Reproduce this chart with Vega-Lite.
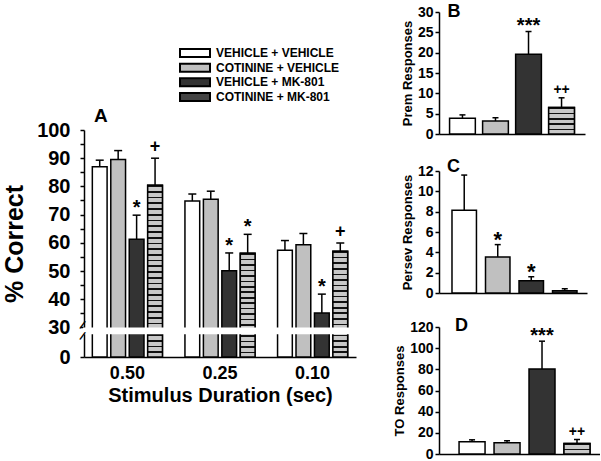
{
  "$schema": "https://vega.github.io/schema/vega-lite/v6.json",
  "padding": {"left": 2, "top": 3, "right": 0, "bottom": 0},
  "background": "white",
  "config": {
    "font": "Liberation Sans",
    "view": {"stroke": null},
    "axis": {"domainColor": "black", "tickColor": "black", "labelColor": "black", "titleColor": "black", "labelFontWeight": "bold", "titleFontWeight": "bold", "grid": false, "domainWidth": 1.5, "tickWidth": 1.5, "labelOverlap": false, "labelFont": "Liberation Sans", "titleFont": "Liberation Sans"},
    "title": {"color": "black", "font": "Liberation Sans"}
  },
  "datasets": {
    "groups": [
      {"grp": "VEHICLE + VEHICLE"},
      {"grp": "COTININE + VEHICLE"},
      {"grp": "VEHICLE + MK-801"},
      {"grp": "COTININE + MK-801"}
    ],
    "acc": [
      {"dur": "0.50", "grp": "VEHICLE + VEHICLE", "val": 87, "err": 89.3, "sig": ""},
      {"dur": "0.50", "grp": "COTININE + VEHICLE", "val": 89.5, "err": 92.7, "sig": ""},
      {"dur": "0.50", "grp": "VEHICLE + MK-801", "val": 61.3, "err": 69.8, "sig": "*"},
      {"dur": "0.50", "grp": "COTININE + MK-801", "val": 80.4, "err": 90, "sig": "+"},
      {"dur": "0.25", "grp": "VEHICLE + VEHICLE", "val": 74.8, "err": 77.3, "sig": ""},
      {"dur": "0.25", "grp": "COTININE + VEHICLE", "val": 75.4, "err": 78.3, "sig": ""},
      {"dur": "0.25", "grp": "VEHICLE + MK-801", "val": 50.1, "err": 56.4, "sig": "*"},
      {"dur": "0.25", "grp": "COTININE + MK-801", "val": 56.3, "err": 63, "sig": "*"},
      {"dur": "0.10", "grp": "VEHICLE + VEHICLE", "val": 57.4, "err": 60.8, "sig": ""},
      {"dur": "0.10", "grp": "COTININE + VEHICLE", "val": 59.3, "err": 63.3, "sig": ""},
      {"dur": "0.10", "grp": "VEHICLE + MK-801", "val": 35.1, "err": 41.8, "sig": "*"},
      {"dur": "0.10", "grp": "COTININE + MK-801", "val": 57, "err": 59.9, "sig": "+"}
    ],
    "prem": [
      {"grp": "VEHICLE + VEHICLE", "val": 3.9, "err": 4.7, "sig": ""},
      {"grp": "COTININE + VEHICLE", "val": 3.2, "err": 4.0, "sig": ""},
      {"grp": "VEHICLE + MK-801", "val": 19.6, "err": 25.2, "sig": "***"},
      {"grp": "COTININE + MK-801", "val": 6.5, "err": 8.9, "sig": "++"}
    ],
    "persev": [
      {"grp": "VEHICLE + VEHICLE", "val": 8.15, "err": 11.6, "sig": ""},
      {"grp": "COTININE + VEHICLE", "val": 3.55, "err": 4.76, "sig": "*"},
      {"grp": "VEHICLE + MK-801", "val": 1.2, "err": 1.6, "sig": "*"},
      {"grp": "COTININE + MK-801", "val": 0.23, "err": 0.42, "sig": ""}
    ],
    "to": [
      {"grp": "VEHICLE + VEHICLE", "val": 11.6, "err": 13.4, "sig": ""},
      {"grp": "COTININE + VEHICLE", "val": 10.6, "err": 12.5, "sig": ""},
      {"grp": "VEHICLE + MK-801", "val": 80.3, "err": 106.6, "sig": "***"},
      {"grp": "COTININE + MK-801", "val": 10, "err": 13.7, "sig": "++"}
    ]
  },
  "spacing": 36,
  "hconcat": [
    {
      "spacing": 1,
      "vconcat": [
        {
          "width": 222,
          "height": 92.33,
          "data": {"name": "groups"},
          "layer": [
            {
              "mark": {"type": "point", "shape": "M-3.75,-1H3.75V1H-3.75Z", "size": 64, "filled": true, "stroke": "black", "strokeWidth": 2, "opacity": 1},
              "encoding": {
                "y": {"field": "grp", "type": "nominal", "scale": {"type": "band", "domain": [" ", "VEHICLE + VEHICLE", "COTININE + VEHICLE", "VEHICLE + MK-801", "COTININE + MK-801"], "paddingInner": 0, "paddingOuter": 0.65, "align": 1}, "axis": null},
                "fill": {"field": "grp", "type": "nominal", "scale": {"domain": ["VEHICLE + VEHICLE", "COTININE + VEHICLE", "VEHICLE + MK-801", "COTININE + MK-801"], "range": ["#ffffff", "#c0c0c0", "#333333", "#444444"]}, "legend": null}
              }
            },
            {
              "mark": {"type": "text", "align": "left", "baseline": "middle", "dx": 21, "fontSize": 12, "fontWeight": "bold", "color": "black"},
              "encoding": {
                "y": {"field": "grp", "type": "nominal"},
                "text": {"field": "grp"}
              }
            }
          ]
        },
        {
          "width": 272,
          "height": 227,
          "data": {"name": "acc"},
          "title": {"text": "A", "anchor": "start", "frame": "group", "fontSize": 19, "fontWeight": "bold", "offset": 3, "dx": 10, "dy": 9},
          "layer": [
            {
              "mark": {"type": "bar", "stroke": "black", "strokeWidth": 1.5},
              "encoding": {
                "x": {"field": "dur", "type": "nominal", "scale": {"domain": ["0.50", "0.25", "0.10"], "paddingInner": 0.243, "paddingOuter": 0.09},
                      "axis": {"labelAngle": 0, "labelFontSize": 18, "ticks": false, "labelPadding": 7, "title": "Stimulus Duration (sec)", "titleFontSize": 20, "titlePadding": 3}},
                "xOffset": {"field": "grp", "type": "nominal", "scale": {"domain": ["VEHICLE + VEHICLE", "COTININE + VEHICLE", "VEHICLE + MK-801", "COTININE + MK-801"], "paddingInner": 0.2, "paddingOuter": 0}},
                "y": {"field": "val", "type": "quantitative", "scale": {"domain": [0, 30, 100], "range": [227, 197.4, 0], "nice": false, "zero": false},
                      "axis": {"values": [0, 30, 35, 40, 45, 50, 55, 60, 65, 70, 75, 80, 85, 90, 95, 100], "tickCount": 40, "format": "d", "labelOverlap": false, "labelExpr": "datum.value % 10 == 0 ? datum.label : ''", "labelFontSize": 20, "labelPadding": 10, "tickSize": 4, "title": "% Correct", "titleFontSize": 25, "titlePadding": 9}},
                "fill": {"field": "grp", "type": "nominal", "legend": null}
              }
            },
            {
              "transform": [{"filter": "datum.grp == 'COTININE + MK-801' && datum.dur == '0.50'"}],
              "mark": {"type": "bar", "stroke": "black", "strokeWidth": 1.5,
                "fill": {"gradient": "linear", "x1": 0, "y1": 0, "x2": 0, "y2": 1, "stops": [
                  {"offset": 0, "color": "#111"}, {"offset": 0.01, "color": "#111"}, {"offset": 0.01, "color": "#c8c8c8"}, {"offset": 0.0333, "color": "#c8c8c8"},
                  {"offset": 0.0333, "color": "#111"}, {"offset": 0.0433, "color": "#111"}, {"offset": 0.0433, "color": "#c8c8c8"}, {"offset": 0.0667, "color": "#c8c8c8"},
                  {"offset": 0.0667, "color": "#111"}, {"offset": 0.0767, "color": "#111"}, {"offset": 0.0767, "color": "#c8c8c8"}, {"offset": 0.1, "color": "#c8c8c8"},
                  {"offset": 0.1, "color": "#111"}, {"offset": 0.11, "color": "#111"}, {"offset": 0.11, "color": "#c8c8c8"}, {"offset": 0.1333, "color": "#c8c8c8"},
                  {"offset": 0.1333, "color": "#111"}, {"offset": 0.1433, "color": "#111"}, {"offset": 0.1433, "color": "#c8c8c8"}, {"offset": 0.1667, "color": "#c8c8c8"},
                  {"offset": 0.1667, "color": "#111"}, {"offset": 0.1767, "color": "#111"}, {"offset": 0.1767, "color": "#c8c8c8"}, {"offset": 0.2, "color": "#c8c8c8"},
                  {"offset": 0.2, "color": "#111"}, {"offset": 0.21, "color": "#111"}, {"offset": 0.21, "color": "#c8c8c8"}, {"offset": 0.2333, "color": "#c8c8c8"},
                  {"offset": 0.2333, "color": "#111"}, {"offset": 0.2433, "color": "#111"}, {"offset": 0.2433, "color": "#c8c8c8"}, {"offset": 0.2667, "color": "#c8c8c8"},
                  {"offset": 0.2667, "color": "#111"}, {"offset": 0.2767, "color": "#111"}, {"offset": 0.2767, "color": "#c8c8c8"}, {"offset": 0.3, "color": "#c8c8c8"},
                  {"offset": 0.3, "color": "#111"}, {"offset": 0.31, "color": "#111"}, {"offset": 0.31, "color": "#c8c8c8"}, {"offset": 0.3333, "color": "#c8c8c8"},
                  {"offset": 0.3333, "color": "#111"}, {"offset": 0.3433, "color": "#111"}, {"offset": 0.3433, "color": "#c8c8c8"}, {"offset": 0.3667, "color": "#c8c8c8"},
                  {"offset": 0.3667, "color": "#111"}, {"offset": 0.3767, "color": "#111"}, {"offset": 0.3767, "color": "#c8c8c8"}, {"offset": 0.4, "color": "#c8c8c8"},
                  {"offset": 0.4, "color": "#111"}, {"offset": 0.41, "color": "#111"}, {"offset": 0.41, "color": "#c8c8c8"}, {"offset": 0.4333, "color": "#c8c8c8"},
                  {"offset": 0.4333, "color": "#111"}, {"offset": 0.4433, "color": "#111"}, {"offset": 0.4433, "color": "#c8c8c8"}, {"offset": 0.4667, "color": "#c8c8c8"},
                  {"offset": 0.4667, "color": "#111"}, {"offset": 0.4767, "color": "#111"}, {"offset": 0.4767, "color": "#c8c8c8"}, {"offset": 0.5, "color": "#c8c8c8"},
                  {"offset": 0.5, "color": "#111"}, {"offset": 0.51, "color": "#111"}, {"offset": 0.51, "color": "#c8c8c8"}, {"offset": 0.5333, "color": "#c8c8c8"},
                  {"offset": 0.5333, "color": "#111"}, {"offset": 0.5433, "color": "#111"}, {"offset": 0.5433, "color": "#c8c8c8"}, {"offset": 0.5667, "color": "#c8c8c8"},
                  {"offset": 0.5667, "color": "#111"}, {"offset": 0.5767, "color": "#111"}, {"offset": 0.5767, "color": "#c8c8c8"}, {"offset": 0.6, "color": "#c8c8c8"},
                  {"offset": 0.6, "color": "#111"}, {"offset": 0.61, "color": "#111"}, {"offset": 0.61, "color": "#c8c8c8"}, {"offset": 0.6333, "color": "#c8c8c8"},
                  {"offset": 0.6333, "color": "#111"}, {"offset": 0.6433, "color": "#111"}, {"offset": 0.6433, "color": "#c8c8c8"}, {"offset": 0.6667, "color": "#c8c8c8"},
                  {"offset": 0.6667, "color": "#111"}, {"offset": 0.6767, "color": "#111"}, {"offset": 0.6767, "color": "#c8c8c8"}, {"offset": 0.7, "color": "#c8c8c8"},
                  {"offset": 0.7, "color": "#111"}, {"offset": 0.71, "color": "#111"}, {"offset": 0.71, "color": "#c8c8c8"}, {"offset": 0.7333, "color": "#c8c8c8"},
                  {"offset": 0.7333, "color": "#111"}, {"offset": 0.7433, "color": "#111"}, {"offset": 0.7433, "color": "#c8c8c8"}, {"offset": 0.7667, "color": "#c8c8c8"},
                  {"offset": 0.7667, "color": "#111"}, {"offset": 0.7767, "color": "#111"}, {"offset": 0.7767, "color": "#c8c8c8"}, {"offset": 0.8, "color": "#c8c8c8"},
                  {"offset": 0.8, "color": "#111"}, {"offset": 0.81, "color": "#111"}, {"offset": 0.81, "color": "#c8c8c8"}, {"offset": 0.8333, "color": "#c8c8c8"},
                  {"offset": 0.8333, "color": "#111"}, {"offset": 0.8433, "color": "#111"}, {"offset": 0.8433, "color": "#c8c8c8"}, {"offset": 0.8667, "color": "#c8c8c8"},
                  {"offset": 0.8667, "color": "#111"}, {"offset": 0.8767, "color": "#111"}, {"offset": 0.8767, "color": "#c8c8c8"}, {"offset": 0.9, "color": "#c8c8c8"},
                  {"offset": 0.9, "color": "#111"}, {"offset": 0.91, "color": "#111"}, {"offset": 0.91, "color": "#c8c8c8"}, {"offset": 0.9333, "color": "#c8c8c8"},
                  {"offset": 0.9333, "color": "#111"}, {"offset": 0.9433, "color": "#111"}, {"offset": 0.9433, "color": "#c8c8c8"}, {"offset": 0.9667, "color": "#c8c8c8"},
                  {"offset": 0.9667, "color": "#111"}, {"offset": 0.9767, "color": "#111"}, {"offset": 0.9767, "color": "#c8c8c8"}, {"offset": 1, "color": "#c8c8c8"}
                ]}},
              "encoding": {
                "x": {"field": "dur", "type": "nominal"},
                "xOffset": {"field": "grp", "type": "nominal"},
                "y": {"field": "val", "type": "quantitative"}
              }
            },
            {
              "transform": [{"filter": "datum.grp == 'COTININE + MK-801' && datum.dur != '0.50'"}],
              "mark": {"type": "bar", "stroke": "black", "strokeWidth": 1.5,
                "fill": {"gradient": "linear", "x1": 0, "y1": 0, "x2": 0, "y2": 1, "stops": [
                  {"offset": 0, "color": "#111"}, {"offset": 0.0158, "color": "#111"}, {"offset": 0.0158, "color": "#c8c8c8"}, {"offset": 0.0526, "color": "#c8c8c8"},
                  {"offset": 0.0526, "color": "#111"}, {"offset": 0.0684, "color": "#111"}, {"offset": 0.0684, "color": "#c8c8c8"}, {"offset": 0.1053, "color": "#c8c8c8"},
                  {"offset": 0.1053, "color": "#111"}, {"offset": 0.1211, "color": "#111"}, {"offset": 0.1211, "color": "#c8c8c8"}, {"offset": 0.1579, "color": "#c8c8c8"},
                  {"offset": 0.1579, "color": "#111"}, {"offset": 0.1737, "color": "#111"}, {"offset": 0.1737, "color": "#c8c8c8"}, {"offset": 0.2105, "color": "#c8c8c8"},
                  {"offset": 0.2105, "color": "#111"}, {"offset": 0.2263, "color": "#111"}, {"offset": 0.2263, "color": "#c8c8c8"}, {"offset": 0.2632, "color": "#c8c8c8"},
                  {"offset": 0.2632, "color": "#111"}, {"offset": 0.279, "color": "#111"}, {"offset": 0.279, "color": "#c8c8c8"}, {"offset": 0.3158, "color": "#c8c8c8"},
                  {"offset": 0.3158, "color": "#111"}, {"offset": 0.3316, "color": "#111"}, {"offset": 0.3316, "color": "#c8c8c8"}, {"offset": 0.3684, "color": "#c8c8c8"},
                  {"offset": 0.3684, "color": "#111"}, {"offset": 0.3842, "color": "#111"}, {"offset": 0.3842, "color": "#c8c8c8"}, {"offset": 0.4211, "color": "#c8c8c8"},
                  {"offset": 0.4211, "color": "#111"}, {"offset": 0.4369, "color": "#111"}, {"offset": 0.4369, "color": "#c8c8c8"}, {"offset": 0.4737, "color": "#c8c8c8"},
                  {"offset": 0.4737, "color": "#111"}, {"offset": 0.4895, "color": "#111"}, {"offset": 0.4895, "color": "#c8c8c8"}, {"offset": 0.5263, "color": "#c8c8c8"},
                  {"offset": 0.5263, "color": "#111"}, {"offset": 0.5421, "color": "#111"}, {"offset": 0.5421, "color": "#c8c8c8"}, {"offset": 0.5789, "color": "#c8c8c8"},
                  {"offset": 0.5789, "color": "#111"}, {"offset": 0.5947, "color": "#111"}, {"offset": 0.5947, "color": "#c8c8c8"}, {"offset": 0.6316, "color": "#c8c8c8"},
                  {"offset": 0.6316, "color": "#111"}, {"offset": 0.6474, "color": "#111"}, {"offset": 0.6474, "color": "#c8c8c8"}, {"offset": 0.6842, "color": "#c8c8c8"},
                  {"offset": 0.6842, "color": "#111"}, {"offset": 0.7, "color": "#111"}, {"offset": 0.7, "color": "#c8c8c8"}, {"offset": 0.7368, "color": "#c8c8c8"},
                  {"offset": 0.7368, "color": "#111"}, {"offset": 0.7526, "color": "#111"}, {"offset": 0.7526, "color": "#c8c8c8"}, {"offset": 0.7895, "color": "#c8c8c8"},
                  {"offset": 0.7895, "color": "#111"}, {"offset": 0.8053, "color": "#111"}, {"offset": 0.8053, "color": "#c8c8c8"}, {"offset": 0.8421, "color": "#c8c8c8"},
                  {"offset": 0.8421, "color": "#111"}, {"offset": 0.8579, "color": "#111"}, {"offset": 0.8579, "color": "#c8c8c8"}, {"offset": 0.8947, "color": "#c8c8c8"},
                  {"offset": 0.8947, "color": "#111"}, {"offset": 0.9105, "color": "#111"}, {"offset": 0.9105, "color": "#c8c8c8"}, {"offset": 0.9474, "color": "#c8c8c8"},
                  {"offset": 0.9474, "color": "#111"}, {"offset": 0.9632, "color": "#111"}, {"offset": 0.9632, "color": "#c8c8c8"}, {"offset": 1, "color": "#c8c8c8"}
                ]}},
              "encoding": {
                "x": {"field": "dur", "type": "nominal"},
                "xOffset": {"field": "grp", "type": "nominal"},
                "y": {"field": "val", "type": "quantitative"}
              }
            },
            {
              "mark": {"type": "rule", "strokeWidth": 1.5, "color": "black"},
              "encoding": {
                "x": {"field": "dur", "type": "nominal"},
                "xOffset": {"field": "grp", "type": "nominal"},
                "y": {"field": "val", "type": "quantitative"},
                "y2": {"field": "err"}
              }
            },
            {
              "mark": {"type": "tick", "size": 8, "thickness": 1.5, "color": "black", "opacity": 1},
              "encoding": {
                "x": {"field": "dur", "type": "nominal"},
                "xOffset": {"field": "grp", "type": "nominal"},
                "y": {"field": "err", "type": "quantitative"}
              }
            },
            {
              "data": {"values": [{}]},
              "mark": {"type": "rect", "fill": "white", "stroke": "white", "strokeWidth": 2},
              "encoding": {
                "y": {"datum": 29, "type": "quantitative"},
                "y2": {"datum": 24}
              }
            },
            {
              "data": {"values": [{"pos": 30.85}, {"pos": 21.3}]},
              "mark": {"type": "text", "text": "/", "fontSize": 12, "fontWeight": "bold", "angle": 25, "dx": -9, "dy": 4.2, "align": "center", "baseline": "middle", "color": "black"},
              "encoding": {
                "x": {"datum": "0.50", "type": "nominal", "bandPosition": 0},
                "y": {"field": "pos", "type": "quantitative"}
              }
            },
            {
              "transform": [{"filter": "indexof(datum.sig, '*') >= 0"}],
              "mark": {"type": "text", "fontSize": 20, "fontWeight": "bold", "baseline": "alphabetic", "dy": -1, "color": "black"},
              "encoding": {
                "x": {"field": "dur", "type": "nominal"},
                "xOffset": {"field": "grp", "type": "nominal"},
                "y": {"field": "err", "type": "quantitative"},
                "text": {"field": "sig"}
              }
            },
            {
              "transform": [{"filter": "indexof(datum.sig, '+') >= 0"}],
              "mark": {"type": "text", "fontSize": 18, "fontWeight": "bold", "baseline": "alphabetic", "dy": -6, "color": "black"},
              "encoding": {
                "x": {"field": "dur", "type": "nominal"},
                "xOffset": {"field": "grp", "type": "nominal"},
                "y": {"field": "err", "type": "quantitative"},
                "text": {"field": "sig"}
              }
            }
          ]
        }
      ]
    },
    {
      "spacing": 17,
      "vconcat": [
        {
          "width": 146,
          "height": 122,
          "data": {"name": "prem"},
          "layer": [
            {
              "mark": {"type": "bar", "stroke": "black", "strokeWidth": 1.5},
              "encoding": {
                "x": {"field": "grp", "type": "nominal", "scale": {"domain": ["VEHICLE + VEHICLE", "COTININE + VEHICLE", "VEHICLE + MK-801", "COTININE + MK-801"], "paddingInner": 0.22, "paddingOuter": 0.32}, "axis": {"labels": false, "ticks": false, "title": null}},
                "y": {"field": "val", "type": "quantitative", "scale": {"domain": [0, 30], "nice": false}, "axis": {"values": [0, 5, 10, 15, 20, 25, 30], "tickCount": 20, "format": "d", "labelFontSize": 14, "tickSize": 4, "labelPadding": 2, "title": "Prem Responses", "titleFontSize": 13, "titlePadding": 3}},
                "fill": {"field": "grp", "type": "nominal", "legend": null}
              }
            },
            {
              "transform": [{"filter": "datum.grp == 'COTININE + MK-801'"}],
              "mark": {"type": "bar", "stroke": "black", "strokeWidth": 1.5,
                "fill": {"gradient": "linear", "x1": 0, "y1": 0, "x2": 0, "y2": 1, "stops": [
                  {"offset": 0, "color": "#111"}, {"offset": 0.06, "color": "#111"}, {"offset": 0.06, "color": "#c8c8c8"}, {"offset": 0.2, "color": "#c8c8c8"},
                  {"offset": 0.2, "color": "#111"}, {"offset": 0.26, "color": "#111"}, {"offset": 0.26, "color": "#c8c8c8"}, {"offset": 0.4, "color": "#c8c8c8"},
                  {"offset": 0.4, "color": "#111"}, {"offset": 0.46, "color": "#111"}, {"offset": 0.46, "color": "#c8c8c8"}, {"offset": 0.6, "color": "#c8c8c8"},
                  {"offset": 0.6, "color": "#111"}, {"offset": 0.66, "color": "#111"}, {"offset": 0.66, "color": "#c8c8c8"}, {"offset": 0.8, "color": "#c8c8c8"},
                  {"offset": 0.8, "color": "#111"}, {"offset": 0.86, "color": "#111"}, {"offset": 0.86, "color": "#c8c8c8"}, {"offset": 1, "color": "#c8c8c8"}
                ]}},
              "encoding": {
                "x": {"field": "grp", "type": "nominal"},
                "y": {"field": "val", "type": "quantitative"}
              }
            },
            {
              "mark": {"type": "rule", "strokeWidth": 1.5, "color": "black"},
              "encoding": {"x": {"field": "grp", "type": "nominal"}, "y": {"field": "val", "type": "quantitative"}, "y2": {"field": "err"}}
            },
            {
              "mark": {"type": "tick", "size": 6, "thickness": 1.5, "color": "black", "opacity": 1},
              "encoding": {"x": {"field": "grp", "type": "nominal"}, "y": {"field": "err", "type": "quantitative"}}
            },
            {
              "transform": [{"filter": "indexof(datum.sig, '*') >= 0"}],
              "mark": {"type": "text", "fontSize": 20, "fontWeight": "bold", "baseline": "alphabetic", "dy": 0, "color": "black"},
              "encoding": {"x": {"field": "grp", "type": "nominal"}, "y": {"field": "err", "type": "quantitative"}, "text": {"field": "sig"}}
            },
            {
              "transform": [{"filter": "indexof(datum.sig, '+') >= 0"}],
              "mark": {"type": "text", "fontSize": 14, "fontWeight": "bold", "baseline": "alphabetic", "dy": -4, "color": "black"},
              "encoding": {"x": {"field": "grp", "type": "nominal"}, "y": {"field": "err", "type": "quantitative"}, "text": {"field": "sig"}}
            },
            {
              "data": {"values": [{"lab": "B"}]},
              "mark": {"type": "text", "fontSize": 18, "fontWeight": "bold", "align": "left", "baseline": "middle", "dx": -2, "color": "black"},
              "encoding": {"x": {"datum": "VEHICLE + VEHICLE", "type": "nominal", "bandPosition": 0}, "y": {"datum": 30, "type": "quantitative"}, "text": {"field": "lab"}}
            }
          ]
        },
        {
          "width": 148,
          "height": 122,
          "data": {"name": "persev"},
          "layer": [
            {
              "mark": {"type": "bar", "stroke": "black", "strokeWidth": 1.5},
              "encoding": {
                "x": {"field": "grp", "type": "nominal", "scale": {"domain": ["VEHICLE + VEHICLE", "COTININE + VEHICLE", "VEHICLE + MK-801", "COTININE + MK-801"], "paddingInner": 0.27, "paddingOuter": 0.343, "align": 0.565}, "axis": {"labels": false, "ticks": false, "title": null}},
                "y": {"field": "val", "type": "quantitative", "scale": {"domain": [0, 12], "nice": false}, "axis": {"values": [0, 2, 4, 6, 8, 10, 12], "tickCount": 20, "format": "d", "labelFontSize": 14, "tickSize": 4, "labelPadding": 2, "title": "Persev Responses", "titleFontSize": 13, "titlePadding": 3}},
                "fill": {"field": "grp", "type": "nominal", "legend": null}
              }
            },
            {
              "mark": {"type": "rule", "strokeWidth": 1.5, "color": "black"},
              "encoding": {"x": {"field": "grp", "type": "nominal"}, "y": {"field": "val", "type": "quantitative"}, "y2": {"field": "err"}}
            },
            {
              "mark": {"type": "tick", "size": 6, "thickness": 1.5, "color": "black", "opacity": 1},
              "encoding": {"x": {"field": "grp", "type": "nominal"}, "y": {"field": "err", "type": "quantitative"}}
            },
            {
              "transform": [{"filter": "indexof(datum.sig, '*') >= 0"}],
              "mark": {"type": "text", "fontSize": 22, "fontWeight": "bold", "baseline": "alphabetic", "dy": 2, "color": "black"},
              "encoding": {"x": {"field": "grp", "type": "nominal"}, "y": {"field": "err", "type": "quantitative"}, "text": {"field": "sig"}}
            },
            {
              "data": {"values": [{"lab": "C"}]},
              "mark": {"type": "text", "fontSize": 18, "fontWeight": "bold", "align": "left", "baseline": "middle", "dx": -5, "dy": -4, "color": "black"},
              "encoding": {"x": {"datum": "VEHICLE + VEHICLE", "type": "nominal", "bandPosition": 0}, "y": {"datum": 12, "type": "quantitative"}, "text": {"field": "lab"}}
            }
          ]
        },
        {
          "width": 161,
          "height": 127,
          "data": {"name": "to"},
          "layer": [
            {
              "mark": {"type": "bar", "stroke": "black", "strokeWidth": 1.5},
              "encoding": {
                "x": {"field": "grp", "type": "nominal", "scale": {"domain": ["VEHICLE + VEHICLE", "COTININE + VEHICLE", "VEHICLE + MK-801", "COTININE + MK-801"], "paddingInner": 0.257, "paddingOuter": 0.43, "align": 0.667}, "axis": {"labels": false, "ticks": false, "title": null}},
                "y": {"field": "val", "type": "quantitative", "scale": {"domain": [0, 120], "nice": false}, "axis": {"values": [0, 20, 40, 60, 80, 100, 120], "tickCount": 20, "format": "d", "labelFontSize": 14, "tickSize": 4, "labelPadding": 2, "title": "TO Responses", "titleFontSize": 13, "titlePadding": 3}},
                "fill": {"field": "grp", "type": "nominal", "legend": null}
              }
            },
            {
              "transform": [{"filter": "datum.grp == 'COTININE + MK-801'"}],
              "mark": {"type": "bar", "stroke": "black", "strokeWidth": 1.5,
                "fill": {"gradient": "linear", "x1": 0, "y1": 0, "x2": 0, "y2": 1, "stops": [
                  {"offset": 0, "color": "#111"}, {"offset": 0.15, "color": "#111"}, {"offset": 0.15, "color": "#c8c8c8"}, {"offset": 0.5, "color": "#c8c8c8"},
                  {"offset": 0.5, "color": "#111"}, {"offset": 0.65, "color": "#111"}, {"offset": 0.65, "color": "#c8c8c8"}, {"offset": 1, "color": "#c8c8c8"}
                ]}},
              "encoding": {
                "x": {"field": "grp", "type": "nominal"},
                "y": {"field": "val", "type": "quantitative"}
              }
            },
            {
              "mark": {"type": "rule", "strokeWidth": 1.5, "color": "black"},
              "encoding": {"x": {"field": "grp", "type": "nominal"}, "y": {"field": "val", "type": "quantitative"}, "y2": {"field": "err"}}
            },
            {
              "mark": {"type": "tick", "size": 6, "thickness": 1.5, "color": "black", "opacity": 1},
              "encoding": {"x": {"field": "grp", "type": "nominal"}, "y": {"field": "err", "type": "quantitative"}}
            },
            {
              "transform": [{"filter": "indexof(datum.sig, '*') >= 0"}],
              "mark": {"type": "text", "fontSize": 20, "fontWeight": "bold", "baseline": "alphabetic", "dy": 1, "color": "black"},
              "encoding": {"x": {"field": "grp", "type": "nominal"}, "y": {"field": "err", "type": "quantitative"}, "text": {"field": "sig"}}
            },
            {
              "transform": [{"filter": "indexof(datum.sig, '+') >= 0"}],
              "mark": {"type": "text", "fontSize": 14, "fontWeight": "bold", "baseline": "alphabetic", "dy": -4, "color": "black"},
              "encoding": {"x": {"field": "grp", "type": "nominal"}, "y": {"field": "err", "type": "quantitative"}, "text": {"field": "sig"}}
            },
            {
              "data": {"values": [{"lab": "D"}]},
              "mark": {"type": "text", "fontSize": 18, "fontWeight": "bold", "align": "left", "baseline": "middle", "dx": -4, "dy": -1, "color": "black"},
              "encoding": {"x": {"datum": "VEHICLE + VEHICLE", "type": "nominal", "bandPosition": 0}, "y": {"datum": 120, "type": "quantitative"}, "text": {"field": "lab"}}
            }
          ]
        }
      ]
    }
  ]
}
